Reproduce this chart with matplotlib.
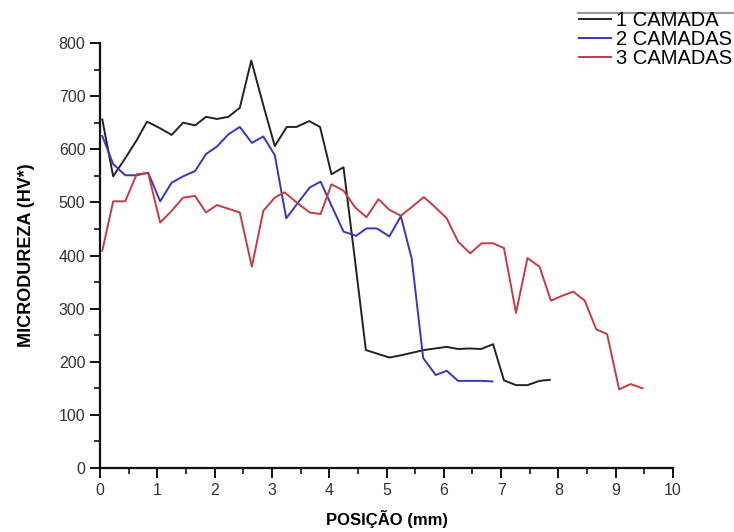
import matplotlib
matplotlib.use("Agg")
import matplotlib.pyplot as plt
from matplotlib.lines import Line2D
from matplotlib.ticker import MultipleLocator

plt.rcParams['font.family'] = ['Liberation Sans', 'DejaVu Sans']

# ---- data ----
x_1 = [0.04, 0.23, 0.44, 0.64, 0.82, 1.04, 1.25, 1.45, 1.66, 1.85, 2.04, 2.24, 2.44, 2.64,
       2.84, 3.05, 3.26, 3.43, 3.65, 3.84, 4.04, 4.25, 4.44, 4.64, 5.05, 5.25, 5.45, 5.65,
       5.85, 6.05, 6.25, 6.45, 6.65, 6.86, 7.05, 7.26, 7.46, 7.67, 7.85]
y_1 = [656, 549, 583, 617, 652, 640, 627, 650, 645, 661, 657, 661, 678, 767,
       687, 606, 642, 642, 653, 642, 553, 566, 400, 222, 208, 212, 217, 222,
       225, 228, 224, 225, 224, 233, 165, 156, 156, 164, 166]

x_2 = [0.04, 0.23, 0.44, 0.64, 0.84, 1.05, 1.25, 1.45, 1.66, 1.85, 2.04, 2.24, 2.44, 2.65,
       2.85, 3.05, 3.25, 3.46, 3.66, 3.85, 4.04, 4.25, 4.47, 4.65, 4.83, 5.05, 5.25, 5.44,
       5.64, 5.86, 6.05, 6.25, 6.45, 6.66, 6.85]
y_2 = [625, 572, 551, 551, 556, 502, 537, 549, 559, 591, 605, 628, 642, 612,
       624, 589, 470, 500, 528, 539, 494, 445, 437, 451, 451, 436, 474, 394,
       207, 175, 183, 164, 164, 164, 163]

x_3 = [0.04, 0.23, 0.44, 0.64, 0.84, 1.05, 1.25, 1.45, 1.66, 1.85, 2.04, 2.24, 2.44, 2.65,
       2.85, 3.05, 3.22, 3.43, 3.66, 3.85, 4.04, 4.25, 4.45, 4.65, 4.86, 5.05, 5.25, 5.44,
       5.65, 5.85, 6.05, 6.25, 6.46, 6.66, 6.86, 7.05, 7.26, 7.46, 7.67, 7.87, 8.06, 8.26,
       8.46, 8.66, 8.85, 9.06, 9.26, 9.47]
y_3 = [409, 502, 502, 553, 555, 462, 484, 509, 512, 481, 495, 488, 481, 379,
       484, 509, 519, 500, 481, 478, 534, 522, 491, 472, 506, 486, 475, 491,
       510, 491, 470, 426, 404, 423, 423, 414, 292, 395, 379, 315, 324, 332,
       315, 261, 252, 148, 158, 150]

labels = ['1 CAMADA', '2 CAMADAS', '3 CAMADAS']
colors = ['#222222', '#3636c4', '#c83a44']

x_ticks = list(range(0, 11))
y_ticks = list(range(0, 801, 100))

# ---- figure ----
fig = plt.figure(figsize=(7.34, 5.32), dpi=100)
ax = fig.add_axes([100/734, 1 - 468/532, (673 - 100)/734, (468 - 43)/532])

series = [(x_1, y_1), (x_2, y_2), (x_3, y_3)]
for (xs, ys), lab, col in zip(series, labels, colors):
    ax.plot(xs, ys, color=col, lw=1.4, label=lab)

ax.set_xlim(0, 10)
ax.set_ylim(0, 800)
ax.set_xticks(x_ticks)
ax.set_yticks(y_ticks)
ax.xaxis.set_minor_locator(MultipleLocator(0.5))
ax.yaxis.set_minor_locator(MultipleLocator(50))

for s in ['top', 'right']:
    ax.spines[s].set_visible(False)
for s in ['left', 'bottom']:
    ax.spines[s].set_linewidth(1.6)
    ax.spines[s].set_color('#111111')

ax.tick_params(which='major', length=7, width=1.4, direction='out',
               labelsize=11.5, labelcolor='#333333', color='#111111')
ax.tick_params(which='minor', length=4, width=1.2, direction='out', color='#111111')

ax.set_xlabel('POSIÇÃO (mm)', fontsize=12, fontweight='bold', labelpad=9)
ax.set_ylabel('MICRODUREZA (HV*)', fontsize=13, fontweight='bold', labelpad=17)

leg = fig.legend(loc='upper left', bbox_to_anchor=(579/734, 1 - 11/532),
                 frameon=False, borderpad=0, borderaxespad=0, fontsize=14.5,
                 handlelength=1.6, handletextpad=0.25, labelspacing=0.0)

fig.add_artist(Line2D([578/734, 1.0], [1 - 13/532, 1 - 13/532],
                      transform=fig.transFigure, color='#9a9a9a', lw=1.5))

fig.savefig('out.png', dpi=100)
